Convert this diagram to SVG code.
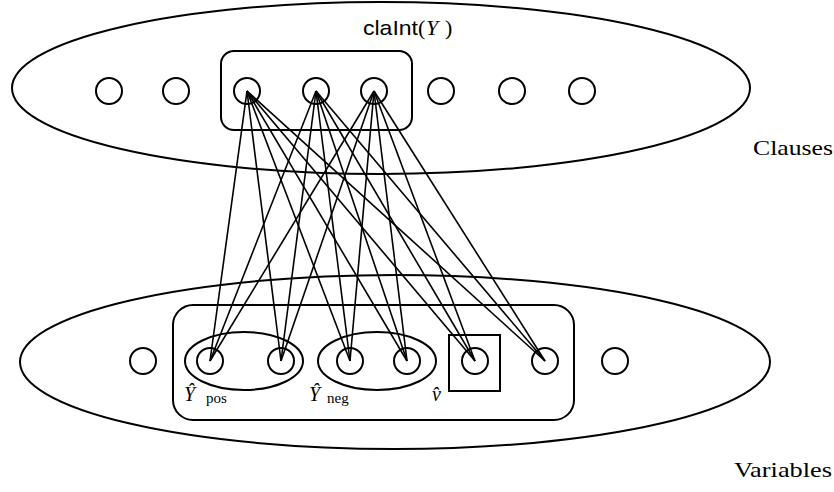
<svg xmlns="http://www.w3.org/2000/svg" width="834" height="492" viewBox="0 0 834 492">
  <style>
    .outline { fill: none; stroke: #000; stroke-width: 2; }
    .edge { stroke: #000; stroke-width: 1.6; fill: none; }
    .serif { font-family: "Liberation Serif", "Times New Roman", serif; fill: #000; }
    .sans { font-family: "Liberation Sans", Arial, sans-serif; fill: #000; }
    .math { font-family: "Liberation Serif", "Times New Roman", serif; font-style: italic; fill: #000; }
  </style>

  <!-- Clause layer -->
  <g id="clauses">
    <ellipse class="outline" cx="381" cy="88" rx="369" ry="86"/>
    <rect class="outline" x="221" y="51" width="191" height="79" rx="13"/>
    <text class="sans" font-size="21">
      <tspan x="363" y="35" textLength="55" lengthAdjust="spacingAndGlyphs">claInt</tspan><tspan class="serif" x="418" y="35" font-size="22">(</tspan><tspan class="math" x="426" y="35" font-size="22">Y</tspan><tspan class="serif" x="445" y="35" font-size="22">)</tspan>
    </text>
    <text class="serif" x="753" y="155" font-size="21" textLength="80" lengthAdjust="spacingAndGlyphs">Clauses</text>
  </g>

  <!-- Variable layer -->
  <g id="variables">
    <ellipse class="outline" cx="395" cy="362" rx="375" ry="87"/>
    <rect class="outline" x="173" y="305" width="401" height="115" rx="20"/>
    <ellipse id="group-pos" class="outline" cx="244" cy="361" rx="59" ry="29"/>
    <ellipse id="group-neg" class="outline" cx="377" cy="361" rx="59" ry="29"/>
    <rect id="group-v" class="outline" x="449" y="335" width="51" height="56"/>
    <text class="math" x="184" y="401" font-size="20">Ŷ</text>
    <text class="serif" x="206" y="403" font-size="15">pos</text>
    <text class="math" x="309" y="401" font-size="20">Ŷ</text>
    <text class="serif" x="327" y="403" font-size="15">neg</text>
    <text class="math" x="432" y="401" font-size="20">v̂</text>
    <text class="serif" x="734" y="477" font-size="21" textLength="98" lengthAdjust="spacingAndGlyphs">Variables</text>
  </g>

  <!-- Connectors: every selected clause to every variable in the box -->
  <g id="connectors" class="edge">
    <line x1="247" y1="91" x2="210" y2="361"/>
    <line x1="247" y1="91" x2="281" y2="361"/>
    <line x1="247" y1="91" x2="350" y2="361"/>
    <line x1="247" y1="91" x2="407" y2="361"/>
    <line x1="247" y1="91" x2="475" y2="361"/>
    <line x1="247" y1="91" x2="545" y2="361"/>
    <line x1="316" y1="91" x2="210" y2="361"/>
    <line x1="316" y1="91" x2="281" y2="361"/>
    <line x1="316" y1="91" x2="350" y2="361"/>
    <line x1="316" y1="91" x2="407" y2="361"/>
    <line x1="316" y1="91" x2="475" y2="361"/>
    <line x1="316" y1="91" x2="545" y2="361"/>
    <line x1="374" y1="91" x2="210" y2="361"/>
    <line x1="374" y1="91" x2="281" y2="361"/>
    <line x1="374" y1="91" x2="350" y2="361"/>
    <line x1="374" y1="91" x2="407" y2="361"/>
    <line x1="374" y1="91" x2="475" y2="361"/>
    <line x1="374" y1="91" x2="545" y2="361"/>
  </g>

  <!-- Clause nodes -->
  <g id="c1"><circle class="outline" cx="109" cy="91" r="13"/></g>
  <g id="c2"><circle class="outline" cx="176" cy="91" r="13"/></g>
  <g id="c3"><circle class="outline" cx="247" cy="91" r="13"/></g>
  <g id="c4"><circle class="outline" cx="316" cy="91" r="13"/></g>
  <g id="c5"><circle class="outline" cx="374" cy="91" r="13"/></g>
  <g id="c6"><circle class="outline" cx="441" cy="91" r="13"/></g>
  <g id="c7"><circle class="outline" cx="512" cy="91" r="13"/></g>
  <g id="c8"><circle class="outline" cx="582" cy="91" r="13"/></g>

  <!-- Variable nodes -->
  <g id="v1"><circle class="outline" cx="143" cy="361" r="13"/></g>
  <g id="v2"><circle class="outline" cx="210" cy="361" r="13"/></g>
  <g id="v3"><circle class="outline" cx="281" cy="361" r="13"/></g>
  <g id="v4"><circle class="outline" cx="350" cy="361" r="13"/></g>
  <g id="v5"><circle class="outline" cx="407" cy="361" r="13"/></g>
  <g id="v6"><circle class="outline" cx="475" cy="361" r="13"/></g>
  <g id="v7"><circle class="outline" cx="545" cy="361" r="13"/></g>
  <g id="v8"><circle class="outline" cx="615" cy="361" r="13"/></g>
</svg>
